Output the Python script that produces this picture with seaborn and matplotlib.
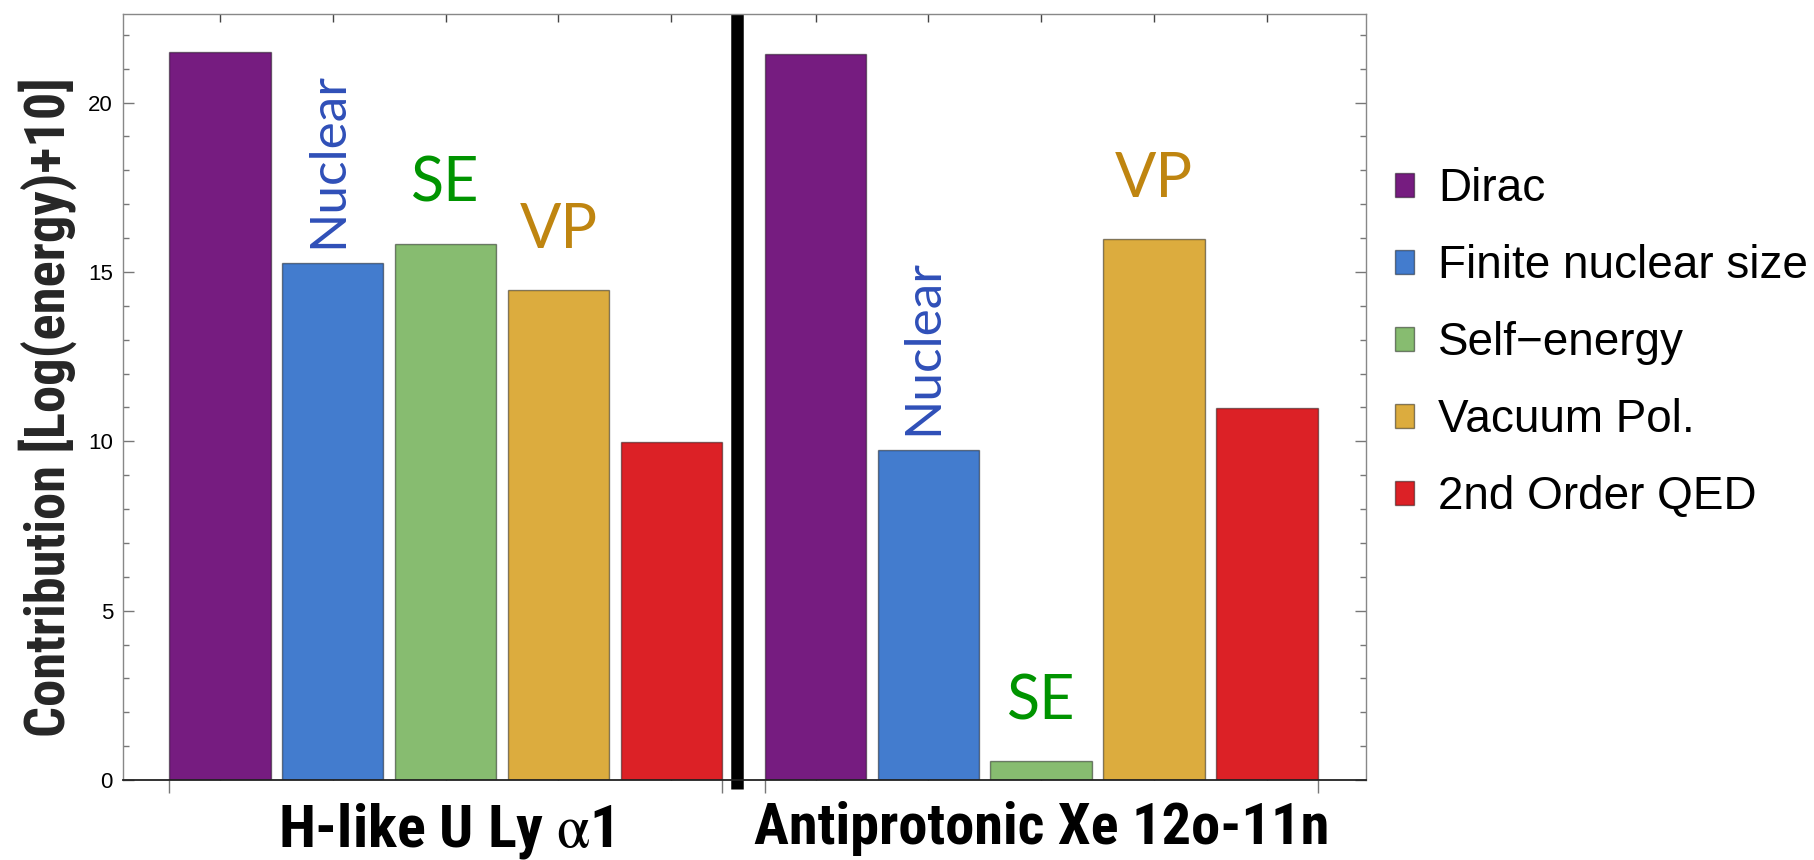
import matplotlib
matplotlib.use('Agg')
import matplotlib.pyplot as plt
from matplotlib.patches import Patch
import pandas as pd
import seaborn as sns

# data
groups = ['H-like U Ly $\\mathrm{\\alpha}$1', 'Antiprotonic Xe 12o-11n']
components = ['Dirac', 'Finite nuclear size', 'Self\u2212energy', 'Vacuum Pol.', '2nd Order QED']
hlike_values = [21.5, 15.25, 15.83, 14.46, 9.98]
antiprotonic_values = [21.44, 9.74, 0.55, 15.97, 10.97]
bar_colors = ['#761c80', '#437cce', '#87bc70', '#dcac3e', '#dc2126']
short_labels = ['', 'Nuclear', 'SE', 'VP', '']
short_colors = ['black', '#2f4fb8', '#009400', '#bf8510', 'black']

df = pd.DataFrame({
    'group': [groups[0]] * 5 + [groups[1]] * 5,
    'component': components * 2,
    'value': hlike_values + antiprotonic_values,
})

sns.set_style('ticks')
plt.rcParams['font.family'] = ['Liberation Sans', 'DejaVu Sans']
plt.rcParams['mathtext.fontset'] = 'stix'
plt.rcParams['text.color'] = 'black'
plt.rcParams['xtick.labelcolor'] = 'black'
plt.rcParams['ytick.labelcolor'] = 'black'

bold_family = ['Roboto Condensed', 'Roboto', 'DejaVu Sans']
note_family = ['Lato', 'Open Sans', 'DejaVu Sans']

fig = plt.figure(figsize=(18.15, 8.6), dpi=100)
ax = fig.add_axes([0.0676, 0.093, 0.685, 0.891])

sns.barplot(data=df, x='group', y='value', hue='component', hue_order=components,
            palette=bar_colors, width=0.9475, gap=0.1, saturation=1,
            edgecolor=(0, 0, 0, 0.45), linewidth=1, legend=False, ax=ax)

ax.set_xlim(-0.542, 1.545)
ax.set_ylim(0, 22.62)

# bar centres and group edges, taken from the drawn bars
bars = sorted([p for p in ax.patches if p.get_width() > 0], key=lambda p: p.get_x())
centers = [p.get_x() + p.get_width() / 2 for p in bars]
edges = [bars[0].get_x(), bars[4].get_x() + bars[4].get_width(),
         bars[5].get_x(), bars[9].get_x() + bars[9].get_width()]

ax.set_xticks(edges)
ax.set_xticklabels([])
ax.set_xticks(centers, minor=True)
ax.tick_params(axis='x', which='major', direction='out', length=9, width=1, color='#777777')
ax.tick_params(axis='x', which='minor', direction='in', length=6, width=1, top=True,
               color='#444444')
ax.set_xlabel('')

sec = ax.secondary_xaxis('bottom')
sec.set_xticks([0, 1], labels=groups)
sec.tick_params(length=0, pad=15)
for lab in sec.get_xticklabels():
    lab.set_family(bold_family)
    lab.set_fontweight('bold')
    lab.set_fontsize(30)
sec.spines['bottom'].set_visible(False)

ax.set_yticks([0, 5, 10, 15, 20])
ax.set_yticks(range(0, 23), minor=True)
ax.tick_params(axis='y', which='major', direction='in', length=8, width=1, right=True,
               labelsize=16, color='#777777', pad=7)
ax.tick_params(axis='y', which='minor', direction='in', length=4, width=1, right=True,
               color='#777777')
ylab = ax.set_ylabel('Contribution [Log(energy)+10]', fontsize=30, fontweight='bold',
                     family=bold_family)
ax.yaxis.set_label_coords(-0.037, 0.486)

for side in ['left', 'right', 'top']:
    ax.spines[side].set_color('#888888')
    ax.spines[side].set_linewidth(1)
ax.spines['bottom'].set_color('#222222')
ax.spines['bottom'].set_linewidth(1.3)

# thick separator between the two cases
ax.axvline(0.49, ymin=-0.012, ymax=1, color='black', lw=9, clip_on=False,
           solid_capstyle='butt')

# short names above the bars
all_values = hlike_values + antiprotonic_values
for i, p in enumerate(bars):
    k = i % 5
    name = short_labels[k]
    if not name:
        continue
    xc = p.get_x() + p.get_width() / 2
    v = all_values[i]
    if name == 'Nuclear':
        ax.text(xc - 0.008, v + 0.45, name, rotation=90, ha='center', va='bottom',
                fontsize=37, color=short_colors[k], family=note_family)
    else:
        ax.text(xc, v + 1.75, name, ha='center', va='center', fontsize=44,
                color=short_colors[k], family=note_family)

handles = [Patch(facecolor=c, edgecolor=(0, 0, 0, 0.45), linewidth=1) for c in bar_colors]
fig.legend(handles, components, loc='center left', bbox_to_anchor=(0.7686, 0.601),
           frameon=False, fontsize=33, handlelength=0.42, handleheight=0.42,
           handletextpad=0.52, labelspacing=0.72, borderpad=0, borderaxespad=0)

# fit the bold labels to the lengths they have in the reference
fits = [(ylab, 660, 'height')] + list(zip(sec.get_xticklabels(), [335, 574], ['width', 'width']))
for _ in range(3):
    fig.canvas.draw()
    r = fig.canvas.get_renderer()
    for t, target, dim in fits:
        bb = t.get_window_extent(r)
        size = bb.height if dim == 'height' else bb.width
        t.set_fontsize(t.get_fontsize() * target / size)

fig.savefig('out.png', dpi=100)
